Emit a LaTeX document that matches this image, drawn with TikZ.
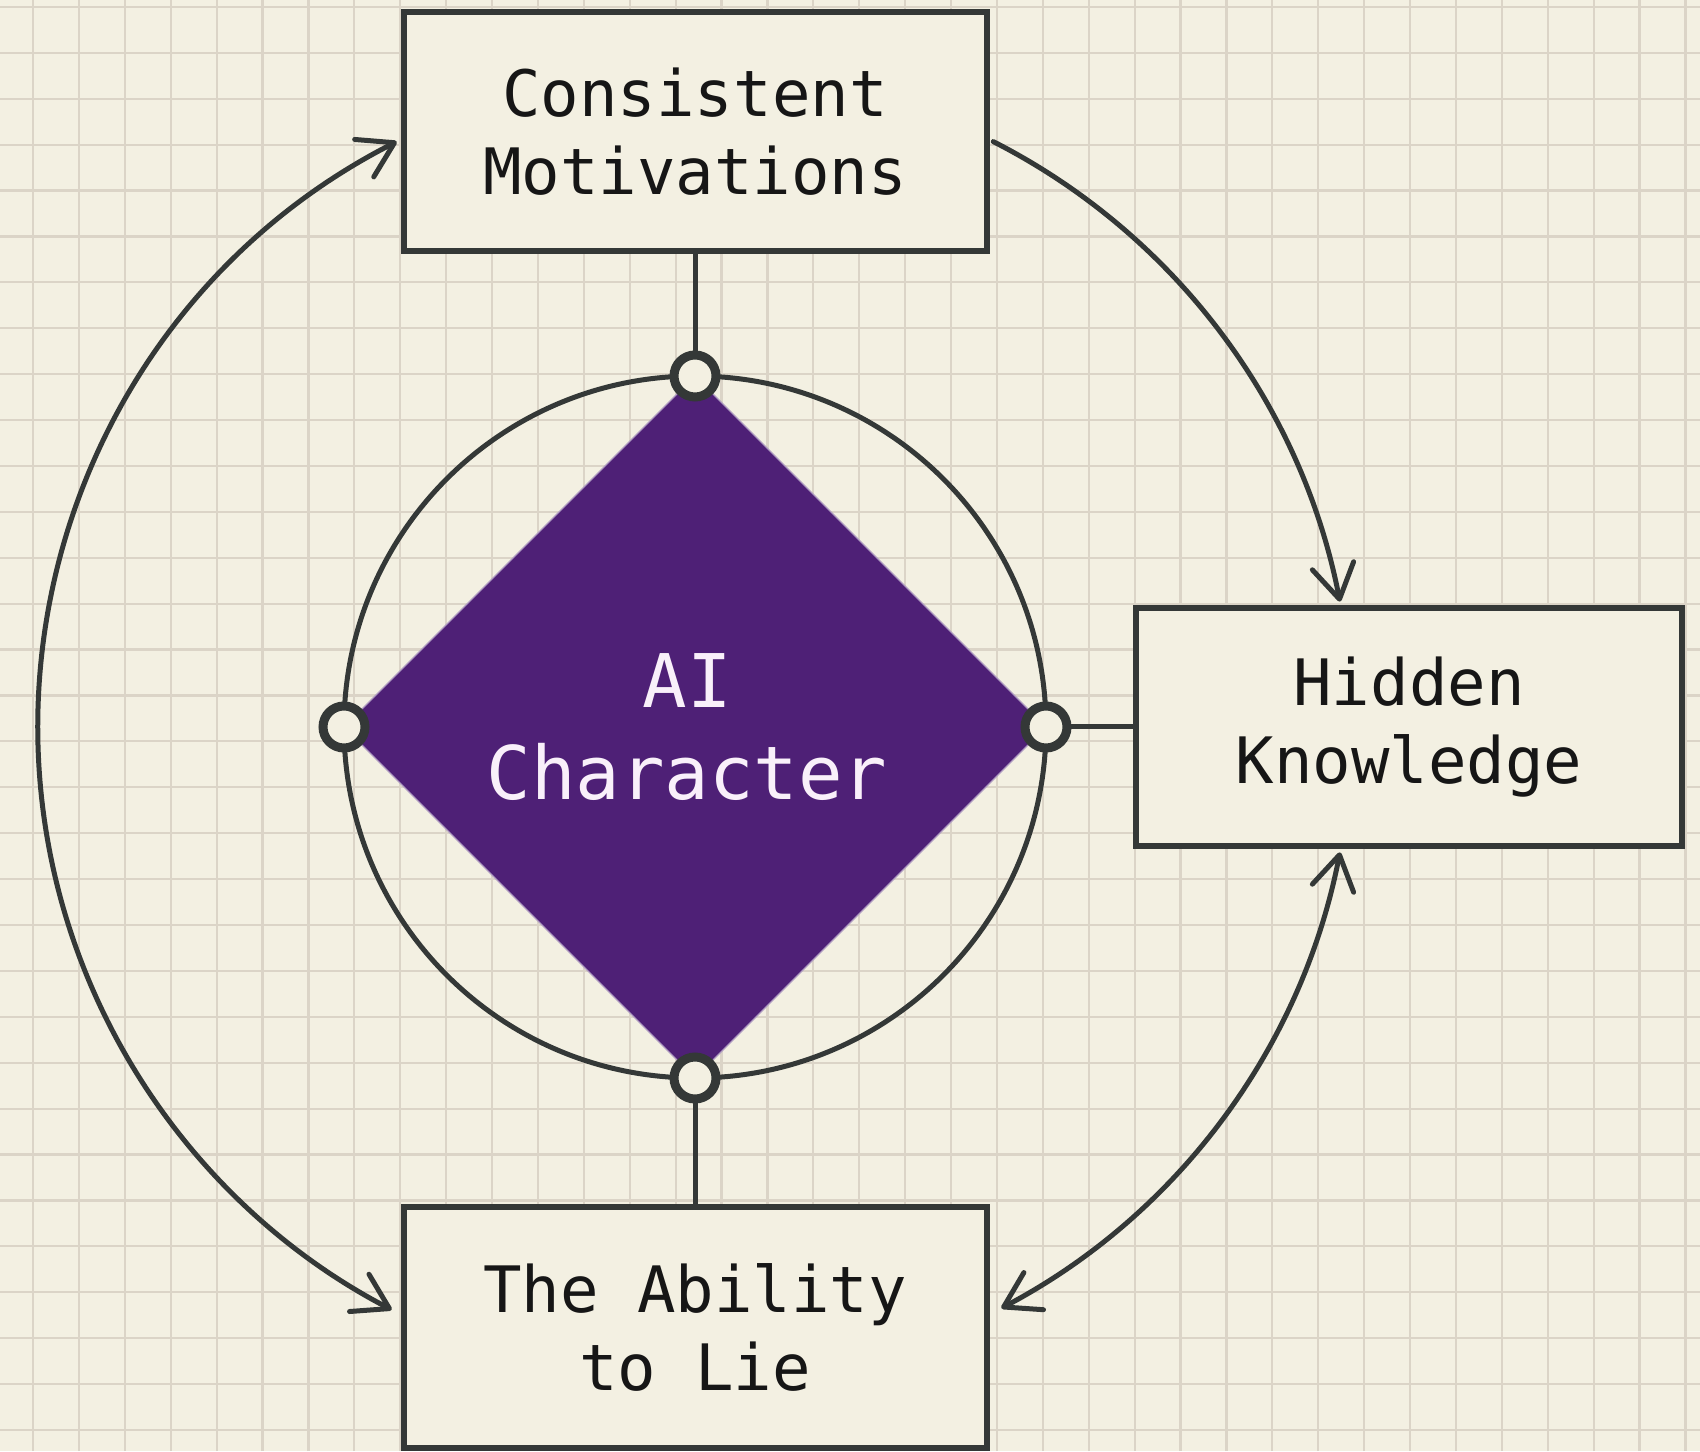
\documentclass[tikz,border=0pt]{standalone}
\usepackage{fontspec}
\newfontfamily\monofont{DejaVu Sans Mono}
\usetikzlibrary{arrows.meta,calc}
\definecolor{bgc}{RGB}{243,240,226}
\definecolor{gridc}{RGB}{219,212,199}
\definecolor{inkc}{RGB}{52,56,55}
\definecolor{purplec}{RGB}{78,32,118}
\definecolor{lightc}{RGB}{249,240,250}
\definecolor{textc}{RGB}{22,22,22}
\tikzset{barbtip/.tip={Straight Barb[length=17pt,width=21pt,round]}}
\begin{document}
\begin{tikzpicture}[x=0.5pt,y=0.5pt,
  box/.style={draw=inkc, fill=bgc, line width=3pt, inner sep=0pt, outer sep=0pt,
    align=center, text=textc, font=\monofont\fontsize{32pt}{39pt}\selectfont},
  dotnode/.style={circle, draw=inkc, fill=bgc, line width=4.5pt, minimum size=21pt, inner sep=0pt},
  link/.style={draw=inkc, line width=2.5pt},
  flow/.style={draw=inkc, line width=2.5pt, line cap=round}
]
% background and grid
\useasboundingbox (0,0) rectangle (1700,1451);
\fill[bgc] (0,0) rectangle (1700,1451);
\foreach \i in {0,...,36} \draw[gridc, line width=1.1pt] ({33+45.9*\i},0) -- ({33+45.9*\i},1451);
\foreach \k in {0,...,31} \draw[gridc, line width=1.1pt] (0,{1444-45.9*\k}) -- (1700,{1444-45.9*\k});

% center and ring
\coordinate (C) at (695,724);
\node[circle, draw=inkc, line width=2.5pt, minimum size=351pt, inner sep=0pt, outer sep=0pt] (ring) at (C) {};
\fill[purplec, draw=purplec!45!white, line width=0.6pt] (ring.north) -- (ring.east) -- (ring.south) -- (ring.west) -- cycle;
\node[align=center, text=lightc, font=\monofont\fontsize{37pt}{46pt}\selectfont] (ai) at (687,724) {AI\\Character};

% boxes
\node[box, minimum width=291.5pt, minimum height=119.5pt] (top) at (695,1319.5) {Consistent\\Motivations};
\node[box, minimum width=273pt, minimum height=119pt] (right) at (1409,724) {Hidden\\Knowledge};
\node[box, minimum width=291.5pt, minimum height=120.5pt] (bot) at (695,123.5) {The Ability\\to Lie};

% straight links
\draw[link] (top.south) -- (ring.north);
\draw[link] (ring.east) -- (right.west);
\draw[link] (ring.south) -- (bot.north);

% dots
\node[dotnode] (dN) at (ring.north) {};
\node[dotnode] (dE) at (ring.east) {};
\node[dotnode] (dS) at (ring.south) {};
\node[dotnode] (dW) at (ring.west) {};

% curved arrows (arcs about the centre)
\coordinate (l1) at ($(C)+(117:657)$);
\coordinate (r1) at ($(C)+(63:657)$);
\coordinate (r2) at ($(C)+(-11:657)$);
\draw[flow, barbtip-barbtip] (l1) arc[start angle=117, end angle=242.5, radius=657];
\draw[flow, -barbtip] (r1) arc[start angle=63, end angle=11, radius=657];
\draw[flow, barbtip-barbtip] (r2) arc[start angle=-11, end angle=-62.2, radius=657];
\end{tikzpicture}
\end{document}
